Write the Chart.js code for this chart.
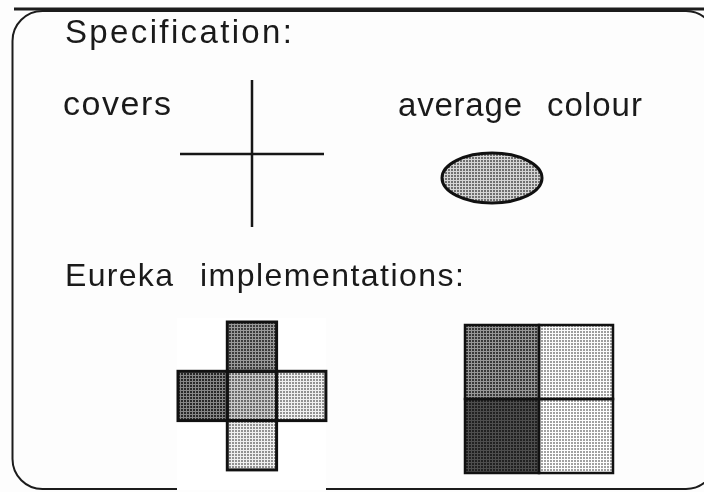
<!DOCTYPE html>
<html>
<head>
<meta charset="utf-8">
<script src="https://cdn.jsdelivr.net/npm/chart.js@4.4.1/dist/chart.umd.min.js"></script>
<style>
  html, body { margin: 0; padding: 0; background: #fdfdfd; }
  #wrap { width: 704px; height: 492px; }
</style>
</head>
<body>
<div id="wrap"><canvas id="diagram" width="704" height="492"></canvas></div>
<script>
// diagram data, in the plot's own units (0..704 across, 0..492 down)
const words = ['Specification:', 'covers', 'average', 'colour', 'Eureka', 'implementations:'];
const wordX = [65, 63, 398, 547, 65, 200];
const wordY = [43, 115, 116, 116, 286, 286];
const wordW = [227, 108, 124, 95, 108, 264];
const wordSize = [33, 34, 33, 33, 32, 32];

const crossVertical = [{x: 252, y: 80}, {x: 252, y: 227}];
const crossHorizontal = [{x: 180, y: 154}, {x: 324, y: 154}];

// grey level of each cell (0 = black, 255 = white)
const crossCols = [1, 0, 1, 2, 1];
const crossRows = [0, 1, 1, 1, 2];
const crossGray = [112, 92, 158, 198, 198];
const quadCols = [0, 1, 0, 1];
const quadRows = [0, 0, 1, 1];
const quadGray = [108, 210, 58, 214];
const averageGray = 168;

// layout
const crossGrid = {x: 178, y: 322, size: 49.3};
const quadGrid = {x: 465, y: 325, size: 74};
const avgShape = {cx: 492, cy: 178, rx: 50, ry: 25};

function halftone(ctx, g, spread) {
    const c = document.createElement('canvas');
    c.width = c.height = 3;
    const t = c.getContext('2d');
    const clamp = v => Math.max(0, Math.min(255, Math.round(v)));
    const light = clamp(g + spread), dark = clamp(g - spread * 1.25);
    t.fillStyle = `rgb(${light},${light},${light})`;
    t.fillRect(0, 0, 3, 3);
    t.fillStyle = `rgb(${dark},${dark},${dark})`;
    t.fillRect(1, 1, 2, 2);
    return ctx.createPattern(c, 'repeat');
}

const diagramPlugin = {
    id: 'diagram',
    beforeDatasetsDraw(chart) {
        const ctx = chart.ctx;
        const sx = v => chart.scales.x.getPixelForValue(v);
        const sy = v => chart.scales.y.getPixelForValue(v);
        ctx.save();

        // frame
        ctx.strokeStyle = '#1c1c1c';
        ctx.lineWidth = 2;
        ctx.beginPath();
        ctx.roundRect(sx(12.5), sy(11), sx(716) - sx(12.5), sy(489) - sy(11), 30);
        ctx.stroke();
        ctx.lineWidth = 3;
        ctx.beginPath();
        ctx.moveTo(sx(14), sy(9));
        ctx.lineTo(sx(704), sy(9));
        ctx.stroke();

        // texts, each word stretched to its measured width
        ctx.fillStyle = '#1a1a1a';
        ctx.textBaseline = 'alphabetic';
        ctx.textAlign = 'left';
        words.forEach((txt, i) => {
            ctx.font = `${wordSize[i]}px "Liberation Sans", Arial, sans-serif`;
            ctx.letterSpacing = '0px';
            const w0 = ctx.measureText(txt).width;
            const gap = (sx(wordX[i] + wordW[i]) - sx(wordX[i]) - w0) / (txt.length - 1);
            ctx.letterSpacing = gap.toFixed(2) + 'px';
            ctx.fillText(txt, sx(wordX[i]), sy(wordY[i]));
        });
        ctx.letterSpacing = '0px';

        // average colour ellipse
        ctx.beginPath();
        ctx.ellipse(sx(avgShape.cx), sy(avgShape.cy), sx(avgShape.cx + avgShape.rx) - sx(avgShape.cx),
            sy(avgShape.cy + avgShape.ry) - sy(avgShape.cy), 0, 0, Math.PI * 2);
        ctx.fillStyle = halftone(ctx, averageGray, 45);
        ctx.fill();
        ctx.lineWidth = 3;
        ctx.strokeStyle = '#111';
        ctx.stroke();

        // white patch behind the cross implementation
        ctx.fillStyle = '#ffffff';
        ctx.fillRect(sx(177), sy(318), sx(326) - sx(177), sy(490) - sy(318));

        const drawCells = (grid, cols, rows, grays, lw) => {
            cols.forEach((c, i) => {
                const x0 = sx(grid.x + c * grid.size), x1 = sx(grid.x + (c + 1) * grid.size);
                const y0 = sy(grid.y + rows[i] * grid.size), y1 = sy(grid.y + (rows[i] + 1) * grid.size);
                ctx.fillStyle = halftone(ctx, grays[i], grays[i] < 80 ? 20 : 42);
                ctx.fillRect(x0, y0, x1 - x0, y1 - y0);
            });
            ctx.strokeStyle = '#111';
            ctx.lineWidth = lw;
            cols.forEach((c, i) => {
                const x0 = sx(grid.x + c * grid.size), x1 = sx(grid.x + (c + 1) * grid.size);
                const y0 = sy(grid.y + rows[i] * grid.size), y1 = sy(grid.y + (rows[i] + 1) * grid.size);
                ctx.strokeRect(x0, y0, x1 - x0, y1 - y0);
            });
        };
        drawCells(crossGrid, crossCols, crossRows, crossGray, 3);
        drawCells(quadGrid, quadCols, quadRows, quadGray, 2.5);

        ctx.restore();
    }
};

const lineStyle = {
    showLine: true,
    borderColor: '#161616',
    borderWidth: 2.5,
    pointRadius: 0,
    fill: false
};

new Chart(document.getElementById('diagram'), {
    type: 'scatter',
    data: {
        datasets: [
            Object.assign({label: 'vertical', data: crossVertical}, lineStyle),
            Object.assign({label: 'horizontal', data: crossHorizontal}, lineStyle)
        ]
    },
    options: {
        responsive: false,
        animation: false,
        layout: {padding: 0},
        plugins: {legend: {display: false}, tooltip: {enabled: false}},
        scales: {
            x: {type: 'linear', min: 0, max: 704, display: false},
            y: {type: 'linear', min: 0, max: 492, reverse: true, display: false}
        }
    },
    plugins: [diagramPlugin]
});
</script>
</body>
</html>
